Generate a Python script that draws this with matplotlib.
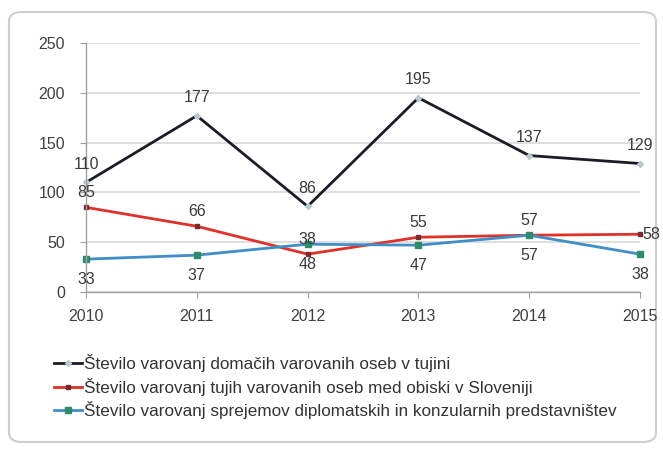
import matplotlib
matplotlib.use("Agg")
import matplotlib.pyplot as plt
from matplotlib.patches import FancyBboxPatch
from matplotlib import font_manager

years = [2010, 2011, 2012, 2013, 2014, 2015]
domaci = [110, 177, 86, 195, 137, 129]
tuji = [85, 66, 38, 55, 57, 58]
sprejemi = [33, 37, 48, 47, 57, 38]
labels = [
    "Število varovanj domačih varovanih oseb v tujini",
    "Število varovanj tujih varovanih oseb med obiski v Sloveniji",
    "Število varovanj sprejemov diplomatskih in konzularnih predstavništev",
]
yticks = [0, 50, 100, 150, 200, 250]

avail = {f.name for f in font_manager.fontManager.ttflist}
fam = [f for f in ["Liberation Sans", "DejaVu Sans"] if f in avail]
plt.rcParams['font.family'] = fam

W, H = 663, 455
fig = plt.figure(figsize=(W / 100, H / 100), dpi=100)
fig.patch.set_facecolor("white")

# outer rounded frame
frame = FancyBboxPatch((9 / W, 1 - 442 / H), (647) / W, (430) / H,
                       boxstyle="round,pad=0,rounding_size=0.02",
                       transform=fig.transFigure, facecolor="white",
                       edgecolor="#cfcfcf", linewidth=1.5, zorder=-5)
fig.patches.append(frame)

ax = fig.add_axes([86 / W, 1 - 292 / H, (640 - 86) / W, (292 - 43) / H])
ax.set_zorder(5)
ax.set_facecolor("none")
ax.set_xlim(2010, 2015)
ax.set_ylim(0, 250)
ax.set_yticks(yticks)
ax.set_xticks(years)
ax.grid(axis="y", color="#d9d9d9", linewidth=1.2)
ax.set_axisbelow(True)
for s in ["top", "right"]:
    ax.spines[s].set_visible(False)
for s in ["left", "bottom"]:
    ax.spines[s].set_color("#a0a0a0")
    ax.spines[s].set_linewidth(1.0)
ax.tick_params(axis="both", colors="#a0a0a0", labelcolor="#404040",
               labelsize=11.5, length=4, direction="out")
ax.tick_params(axis="x", pad=8)
ax.tick_params(axis="y", pad=11)

c_black = "#1c1c28"
c_red = "#e0302a"
c_blue = "#3f8fc6"

l1, = ax.plot(years, domaci, color=c_black, lw=2, marker="D", ms=3,
              mfc="#b8c8d0", mec="#b8c8d0", clip_on=False, label=labels[0])
l2, = ax.plot(years, tuji, color=c_red, lw=2, marker="s", ms=3,
              mfc="#7a2a2a", mec="#7a2a2a", clip_on=False, label=labels[1])
l3, = ax.plot(years, sprejemi, color=c_blue, lw=2, marker="s", ms=4,
              mfc="#2e8b6e", mec="#2e8b6e", clip_on=False, label=labels[2])

tc = "#3a3a3a"
fs = 11.5
for x, y in zip(years, domaci):
    ax.annotate(str(y), (x, y), xytext=(0, 18), textcoords="offset pixels",
                ha="center", va="center", fontsize=fs, color=tc, annotation_clip=False)
for i, (x, y) in enumerate(zip(years, tuji)):
    if i == len(years) - 1:
        ax.annotate(str(y), (x, y), xytext=(2, 0), textcoords="offset pixels",
                    ha="left", va="center", fontsize=fs, color=tc, annotation_clip=False)
    else:
        ax.annotate(str(y), (x, y), xytext=(0, 15), textcoords="offset pixels",
                    ha="center", va="center", fontsize=fs, color=tc, annotation_clip=False)
for x, y in zip(years, sprejemi):
    ax.annotate(str(y), (x, y), xytext=(0, -20), textcoords="offset pixels",
                ha="center", va="center", fontsize=fs, color=tc, annotation_clip=False)

fig.legend(handles=[l1, l2, l3], loc="upper left",
           bbox_to_anchor=(39 / W, 1 - 339 / H), frameon=False,
           fontsize=12.3, handlelength=1.6, handletextpad=0.15,
           labelspacing=0.32, labelcolor="#333333")

fig.savefig("out.png", dpi=100)
